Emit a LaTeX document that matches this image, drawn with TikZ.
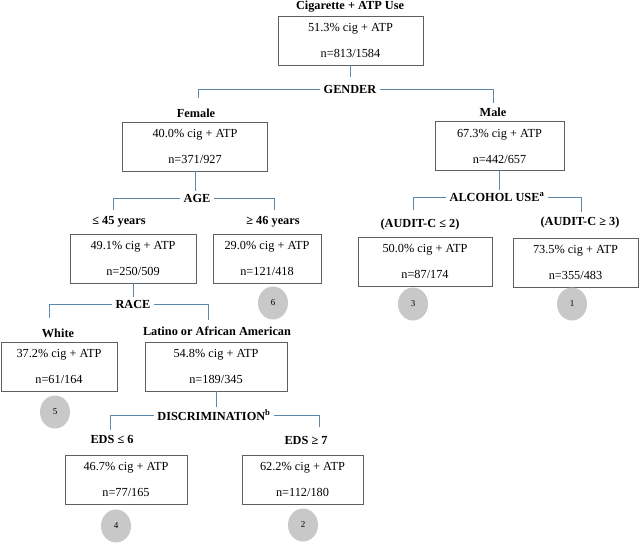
\documentclass[tikz,border=0pt]{standalone}
\usepackage{fontspec}
\setmainfont{Liberation Serif}
\usetikzlibrary{positioning,shapes.geometric}

\definecolor{linkblue}{RGB}{92,134,170}
\definecolor{boxgray}{RGB}{95,95,95}
\definecolor{dotgray}{RGB}{200,200,200}

\begin{document}
\begin{tikzpicture}[x=1pt,y=-1pt,
    box/.style={draw=boxgray, line width=0.8pt, align=center, inner sep=0pt,
      minimum height=49pt, font=\fontsize{12.3}{14}\selectfont},
    lbl/.style={font=\bfseries\fontsize{12.3}{14}\selectfont, inner sep=2pt},
    split/.style={font=\bfseries\fontsize{12.3}{14}\selectfont, inner sep=3pt},
    conn/.style={draw=linkblue, line width=0.9pt},
    num/.style={ellipse, fill=dotgray, minimum width=30pt, minimum height=33pt,
      inner sep=0pt, font=\fontsize{9}{10}\selectfont}]
    \useasboundingbox (0,0) rectangle (640,544);
    % root
    \node [lbl] (title) at (350,7) {Cigarette + ATP Use};
    \node [box, minimum width=145pt] (all) at (350.5,40.5) {51.3\% cig + ATP\\[12pt]n=813/1584};
    \node [split] (gender) at (350,89) {GENDER};
    % gender
    \node [lbl] (female) at (196,113) {Female};
    \node [box, minimum width=145pt] (fembox) at (195,146.5) {40.0\% cig + ATP\\[12pt]n=371/927};
    \node [lbl] (male) at (493,112) {Male};
    \node [box, minimum width=129pt] (malebox) at (499.5,146) {67.3\% cig + ATP\\[12pt]n=442/657};
    \coordinate (g1) at (198,98);
    \coordinate (g2) at (493,103);
    % age
    \node [split] (age) at (197,198) {AGE};
    \node [lbl] (young) at (119,222) {≤ 45 years};
    \node [box, minimum width=126pt] (youngbox) at (133,258.5) {49.1\% cig + ATP\\[12pt]n=250/509};
    \node [lbl] (old) at (273,222) {≥ 46 years};
    \node [box, minimum width=108pt] (oldbox) at (267,258.5) {29.0\% cig + ATP\\[12pt]n=121/418};
    \node [num] (n6) at (273,303) {6};
    \coordinate (a1) at (113,210);
    \coordinate (a2) at (274,210);
    % alcohol
    \node [split] (alc) at (497,197) {ALCOHOL USE\textsuperscript{a}};
    \node [lbl] (lowalc) at (420,225) {(AUDIT-C ≤ 2)};
    \node [box, minimum width=134pt] (lowbox) at (425,261.5) {50.0\% cig + ATP\\[12pt]n=87/174};
    \node [lbl] (highalc) at (580,223) {(AUDIT-C ≥ 3)};
    \node [box, minimum width=125pt] (highbox) at (575.5,262.5) {73.5\% cig + ATP\\[12pt]n=355/483};
    \node [num] (n3) at (413,304) {3};
    \node [num] (n1) at (572,304) {1};
    \coordinate (c1) at (413,210);
    \coordinate (c2) at (581,212);
    % race
    \node [split] (race) at (133,304) {RACE};
    \node [lbl] (white) at (58,333) {White};
    \node [box, minimum width=116pt] (whitebox) at (59,366.5) {37.2\% cig + ATP\\[12pt]n=61/164};
    \node [lbl] (latino) at (217,331) {Latino or African American};
    \node [box, minimum width=142pt] (latbox) at (216,366.5) {54.8\% cig + ATP\\[12pt]n=189/345};
    \node [num] (n5) at (55,412) {5};
    \coordinate (r1) at (49,318);
    \coordinate (r2) at (208,320);
    % discrimination
    \node [split] (disc) at (214,415) {DISCRIMINATION\textsuperscript{b}};
    \node [lbl] (loweds) at (112,439) {EDS ≤ 6};
    \node [box, minimum width=122pt] (ledsbox) at (126,479.5) {46.7\% cig + ATP\\[12pt]n=77/165};
    \node [lbl] (higheds) at (306,440) {EDS ≥ 7};
    \node [box, minimum width=121pt] (hedsbox) at (302.5,479.5) {62.2\% cig + ATP\\[12pt]n=112/180};
    \node [num] (n4) at (116,526) {4};
    \node [num] (n2) at (303,525) {2};
    \coordinate (d1) at (110,430);
    \coordinate (d2) at (319,427);

    \draw [conn] (all.south) -- ++(0,12);
    \draw [conn] (gender.west) -| (g1);
    \draw [conn] (gender.east) -| (g2);
    \draw [conn] (fembox.south) -- (fembox.south |- age.north);
    \draw [conn] (age.west) -| (a1);
    \draw [conn] (age.east) -| (a2);
    \draw [conn] (malebox.south) -- (malebox.south |- alc.north);
    \draw [conn] (alc.west) -| (c1);
    \draw [conn] (alc.east) -| (c2);
    \draw [conn] (youngbox.south) -- (youngbox.south |- race.north);
    \draw [conn] (race.west) -| (r1);
    \draw [conn] (race.east) -| (r2);
    \draw [conn] (latbox.south) -- (latbox.south |- disc.north);
    \draw [conn] (disc.west) -| (d1);
    \draw [conn] (disc.east) -| (d2);
\end{tikzpicture}
\end{document}
